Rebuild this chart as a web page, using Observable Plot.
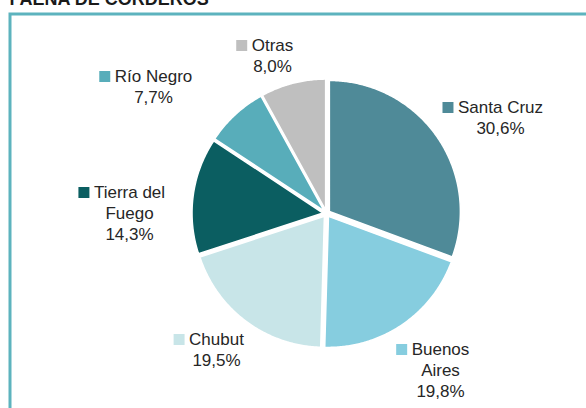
<!DOCTYPE html>
<html>
<head>
<meta charset="utf-8">
<script src="https://cdn.jsdelivr.net/npm/d3@7"></script>
<script src="https://cdn.jsdelivr.net/npm/@observablehq/plot@0.6"></script>
<style>
  html, body { margin: 0; padding: 0; background: #fff; }
</style>
</head>
<body>
<div id="chart"></div>
<script>
// ---- data ----
const titleText = "FAENA DE CORDEROS";
const names = ["Santa Cruz", "Buenos Aires", "Chubut", "Tierra del Fuego", "Río Negro", "Otras"];
const shares = [30.6, 19.8, 19.5, 14.3, 7.7, 8.0];
const shareLabels = ["30,6%", "19,8%", "19,5%", "14,3%", "7,7%", "8,0%"];
const nameLines = [["Santa Cruz"], ["Buenos", "Aires"], ["Chubut"], ["Tierra del", "Fuego"], ["Río Negro"], ["Otras"]];

// ---- styles / layout ----
const colors = ["#4f8a98", "#86cddf", "#c8e5e8", "#0b5e61", "#58adba", "#bfbfbf"];
const W = 586, H = 408;
const cx = 326, cy = 213, R = 131;   // pie centre & radius in px
const explode = 3.5;                  // px offset of each slice
// label anchor (centre of the first text line) in px, relative to pie centre
const labelAnchors = [[174, -106], [114, 136], [-110, 126], [-197, -21], [-173, -137], [-54, -168]];
const fontSize = 17, lineGap = 21;
const font = "Liberation Sans, Arial, sans-serif";

// ---- geometry in data units (1 = radius) ----
const arcs = d3.pie().sort(null).value(d => d)(shares);
const slicePts = [];
arcs.forEach((a, i) => {
  const mid = (a.startAngle + a.endAngle) / 2;
  const ox = explode / R * Math.sin(mid), oy = explode / R * Math.cos(mid);
  slicePts.push({name: names[i], x: ox, y: oy});
  const n = Math.max(8, Math.ceil((a.endAngle - a.startAngle) / 0.01));
  for (let k = 0; k <= n; k++) {
    const t = a.startAngle + (a.endAngle - a.startAngle) * k / n;
    slicePts.push({name: names[i], x: ox + Math.sin(t), y: oy + Math.cos(t)});
  }
});

// text rows
const ctx = document.createElement("canvas").getContext("2d");
ctx.font = `${fontSize}px ${font}`;
const textRows = [];
const keys = [];
names.forEach((nm, i) => {
  const lines = [...nameLines[i], shareLabels[i]];
  const [ax, ay] = labelAnchors[i];
  lines.forEach((ln, j) => {
    textRows.push({text: ln, x: ax / R, y: -(ay + j * lineGap) / R});
  });
  const w = ctx.measureText(nameLines[i][0]).width;
  keys.push({name: nm, x: (ax - w / 2 - 10) / R, y: -(ay) / R});
});

const chart = Plot.plot({
  width: W,
  height: H,
  margin: 0,
  x: {domain: [-cx / R, (W - cx) / R], axis: null},
  y: {domain: [-(H - cy) / R, cy / R], axis: null},
  color: {domain: names, range: colors},
  style: {fontFamily: font, background: "#fff"},
  marks: [
    Plot.frame({stroke: "#5db3be", strokeWidth: 3, insetLeft: 9.5, insetTop: 13.5, insetRight: -10, insetBottom: -10}),
    Plot.text([titleText], {frameAnchor: "top-left", dx: 9, dy: 4, lineAnchor: "bottom", textAnchor: "start",
      fontWeight: "bold", fontSize: 18, fill: "#1a1a1a"}),
    Plot.line(slicePts, {x: "x", y: "y", z: "name", fill: "name", stroke: "white", strokeWidth: 1.5, curve: "linear-closed"}),
    Plot.dot(keys, {x: "x", y: "y", fill: "name", symbol: "square", r: 6.2, stroke: null}),
    Plot.text(textRows, {x: "x", y: "y", text: "text", textAnchor: "middle", lineAnchor: "middle",
      fontSize: fontSize, fill: "#262626"})
  ]
});
document.getElementById("chart").appendChild(chart);
</script>
</body>
</html>
